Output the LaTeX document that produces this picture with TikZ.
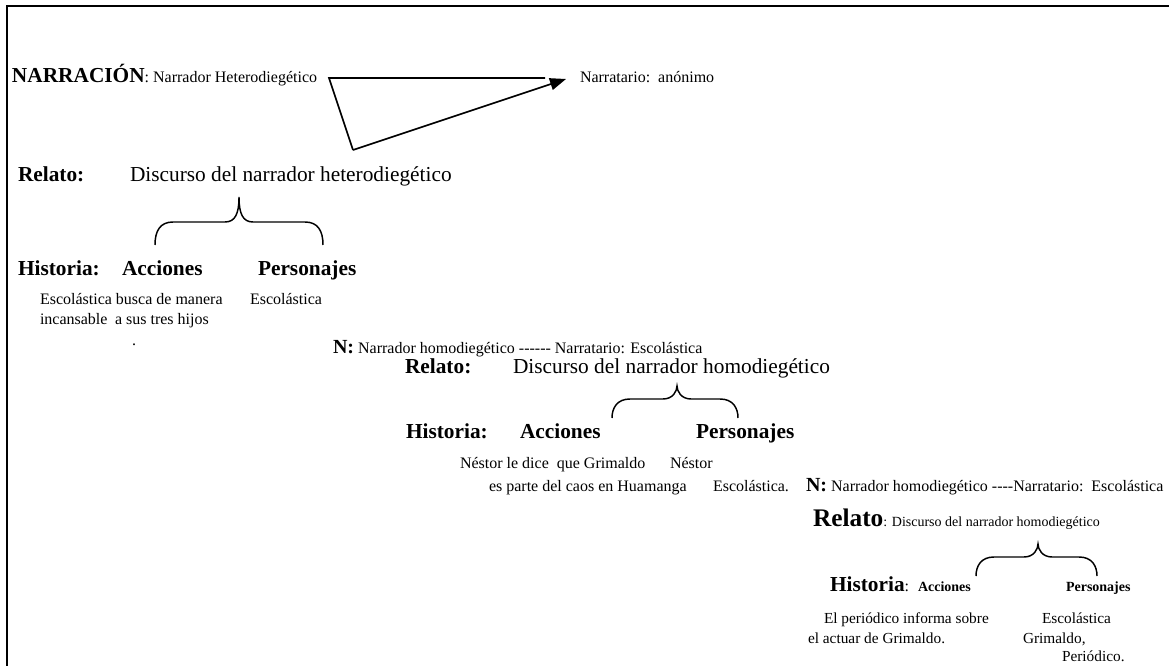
\documentclass[tikz,border=0pt]{standalone}
\usepackage{fontspec}
\setmainfont{Liberation Serif}[Ligatures=TeXOff]
\usetikzlibrary{arrows.meta}

% curly brace opening downwards: left x, right x, cusp x, cusp y, shoulder y, foot y
\newcommand{\downbrace}[6]{%
  \draw[brace line] (#1,#6) .. controls (#1,{#5+9}) and ({#1+5},#5) .. ({#1+18},#5)
    -- ({#3-14},#5) .. controls ({#3-4},#5) and (#3,{#5-8}) .. (#3,#4)
    .. controls (#3,{#5-8}) and ({#3+4},#5) .. ({#3+14},#5)
    -- ({#2-18},#5) .. controls ({#2-5},#5) and (#2,{#5+9}) .. (#2,#6);}

\begin{document}
\begin{tikzpicture}[x=0.75pt,y=-0.75pt,
  txt/.style={inner sep=0pt, outer sep=0pt, anchor=base west},
  sm/.style={txt, font=\fontsize{12}{14}\selectfont},
  smc/.style={txt, font=\fontsize{11.5}{14}\selectfont},
  lg/.style={txt, font=\fontsize{16}{19}\selectfont},
  hd/.style={txt, font=\bfseries\fontsize{16}{19}\selectfont},
  hdsm/.style={txt, font=\bfseries\fontsize{10.5}{12}\selectfont},
  brace line/.style={line width=1.1pt},
  tri line/.style={line width=1.2pt},
  frame line/.style={line width=1.6pt}]

\useasboundingbox (0,0) rectangle (1169,666);

% frame
\coordinate (fb) at (7,667);
\coordinate (fc) at (7,6);
\coordinate (fr) at (1170,6);
\draw[frame line] (fb) -- (fc) -- (fr);

% narration level
\node[txt] (narr) at (12,83) {\bfseries\fontsize{16}{19}\selectfont NARRACIÓN\mdseries\fontsize{12}{14}\selectfont: Narrador Heterodiegético};
\node[sm] (narratario) at (580,83) {Narratario:\ \ anónimo};
\coordinate (ta) at (329,78);
\coordinate (tb) at (545,78);
\coordinate (tc) at (353,150);
\coordinate (tip) at (566,79);
\draw[tri line] (tb) -- (ta) -- (tc);
\draw[tri line, -{Triangle[length=12pt,width=9pt]}] (tc) -- (tip);

% first level
\node[hd] (rel1) at (18,182) {Relato:};
\node[lg] (disc1) at (130,182) {Discurso del narrador heterodiegético};
\downbrace{155}{323}{239}{197}{222}{245}
\node[hd] (hist1) at (18,276) {Historia:};
\node[hd] (acc1) at (122,276) {Acciones};
\node[hd] (pers1) at (258,276) {Personajes};
\node[sm] (a1l1) at (40,305) {Escolástica busca de manera};
\node[sm] (a1l2) at (40,325) {incansable};
\node[sm] (a1l3) at (115,325) {a sus tres hijos};
\node[sm] (a1l4) at (132,345) {.};
\node[sm] (p1) at (250,305) {Escolástica};

% second level
\node[txt] (n2) at (333,353) {\bfseries\fontsize{15}{18}\selectfont N:\mdseries\fontsize{12}{14}\selectfont\ Narrador homodiegético ------ Narratario: Escolástica};
\node[hd] (rel2) at (405,373) {Relato:};
\node[lg] (disc2) at (513,373) {Discurso del narrador homodiegético};
\downbrace{612}{738}{677}{386}{399}{418}
\node[hd] (hist2) at (406,438) {Historia:};
\node[hd] (acc2) at (520,438) {Acciones};
\node[hd] (pers2) at (696,438) {Personajes};
\node[sm] (a2l1) at (460,468) {Néstor le dice\ \ que Grimaldo};
\node[sm] (p2l1) at (670,468) {Néstor};
\node[sm] (a2l2) at (489,491) {es parte del caos en Huamanga};
\node[sm] (p2l2) at (713,491) {Escolástica.};

% third level
\node[txt] (n3) at (806,491) {\bfseries\fontsize{15}{18}\selectfont N:\mdseries\fontsize{12}{14}\selectfont\ Narrador homodiegético ----Narratario:\ \ Escolástica};
\node[txt] (rel3) at (813,526) {\bfseries\fontsize{19}{22}\selectfont Relato\mdseries\fontsize{10.5}{13}\selectfont: Discurso del narrador homodiegético};
\downbrace{976}{1097}{1038}{544}{557}{576}
\node[txt] (hist3) at (830,591) {\bfseries\fontsize{16}{19}\selectfont Historia\mdseries\fontsize{12}{14}\selectfont:};
\node[hdsm] (acc3) at (918,591) {Acciones};
\node[hdsm] (pers3) at (1066,591) {Personajes};
\node[smc] (a3l1) at (824,623) {El periódico informa sobre};
\node[smc] (a3l2) at (808,643) {el actuar de Grimaldo.};
\node[smc] (p3l1) at (1042,623) {Escolástica};
\node[smc] (p3l2) at (1023,643) {Grimaldo,};
\node[smc] (p3l3) at (1062,661) {Periódico.};

\end{tikzpicture}
\end{document}
